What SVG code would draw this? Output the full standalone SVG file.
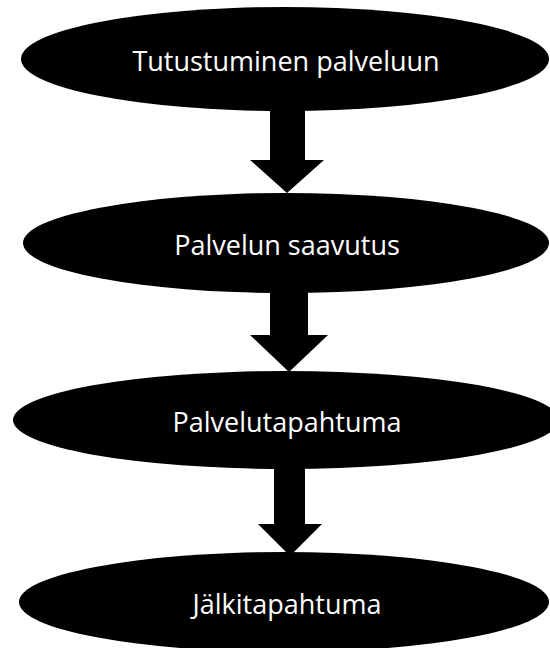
<svg xmlns="http://www.w3.org/2000/svg" width="550" height="648" viewBox="0 0 550 648">
  <style>
    .node ellipse { fill: #000; }
    .node text { fill: #fff; font-family: "Open Sans", "Noto Sans", "Liberation Sans", sans-serif; font-size: 27px; text-anchor: middle; }
    .arrow { fill: #000; }
  </style>
  <rect width="550" height="648" fill="#fff"/>

  <!-- block arrows between the stages -->
  <g id="connectors">
    <polygon class="arrow" points="270,100 305,100 305,160 324,160 287,193 250,160 270,160"/>
    <polygon class="arrow" points="270,280 308,280 308,335 328,335 289,372 250,335 270,335"/>
    <polygon class="arrow" points="274,460 305,460 305,524 322,524 290,556 258,524 274,524"/>
  </g>

  <g id="stage1" class="node">
    <ellipse cx="285" cy="59" rx="264" ry="52"/>
    <text x="286" y="71">Tutustuminen palveluun</text>
  </g>
  <g id="stage2" class="node">
    <ellipse cx="286" cy="243" rx="263" ry="50"/>
    <text x="287" y="255">Palvelun saavutus</text>
  </g>
  <g id="stage3" class="node">
    <ellipse cx="286" cy="420" rx="273" ry="49"/>
    <text x="287" y="432">Palvelutapahtuma</text>
  </g>
  <g id="stage4" class="node">
    <ellipse cx="284" cy="602" rx="265" ry="50"/>
    <text x="287" y="614">Jälkitapahtuma</text>
  </g>
</svg>
